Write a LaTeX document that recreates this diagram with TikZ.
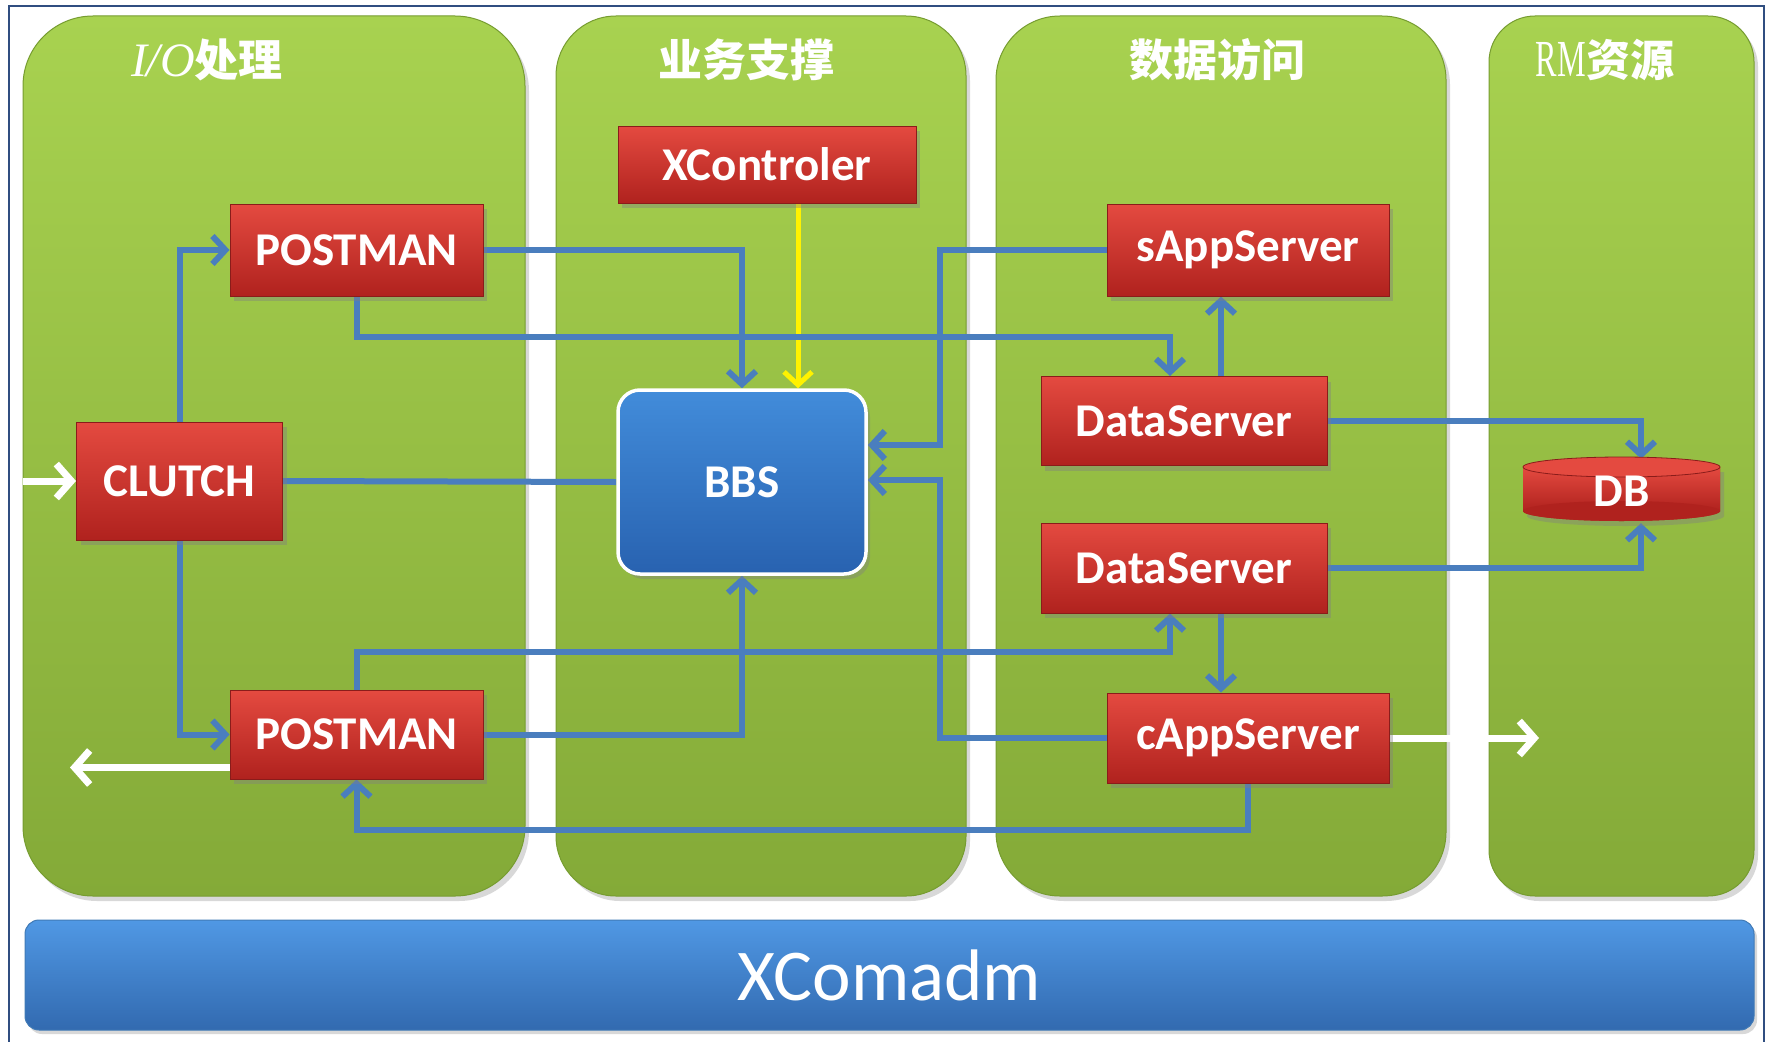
\documentclass[tikz,border=0pt]{standalone}
\usepackage{fontspec}
\usepackage{graphicx}
\setmainfont{Carlito}
\newfontfamily\cjk{Noto Sans CJK SC}
\newfontfamily\serifl{Liberation Serif}
\usetikzlibrary{arrows.meta,shadows}
\pgfdeclarelayer{cols}
\pgfdeclarelayer{wires}
\pgfsetlayers{cols,wires,main}
\definecolor{colTop}{RGB}{168,210,80}
\definecolor{colBot}{RGB}{132,170,56}
\definecolor{colEdge}{RGB}{118,156,48}
\definecolor{redTop}{RGB}{228,74,64}
\definecolor{redBot}{RGB}{176,34,30}
\definecolor{redEdge}{RGB}{138,28,26}
\definecolor{bbsTop}{RGB}{66,140,218}
\definecolor{bbsBot}{RGB}{40,98,176}
\definecolor{barTop}{RGB}{80,152,228}
\definecolor{barBot}{RGB}{50,106,176}
\definecolor{wireC}{RGB}{74,126,190}
\definecolor{frameC}{RGB}{48,78,128}
\tikzset{
  colbox/.style={draw=colEdge, line width=1pt, top color=colTop, bottom color=colBot,
    drop shadow={shadow xshift=4pt, shadow yshift=-5pt, opacity=0.3}},
  redbox/.style={rectangle, draw=redEdge, line width=1pt, top color=redTop, bottom color=redBot,
    text=white, font=\fontsize{47}{56}\selectfont\bfseries, inner sep=0pt,
    drop shadow={shadow xshift=4pt, shadow yshift=-5pt, opacity=0.4}},
  bbsbox/.style={rectangle, rounded corners=22pt, draw=white, line width=3.5pt,
    top color=bbsTop, bottom color=bbsBot, text=white,
    font=\fontsize{47}{56}\selectfont\bfseries, inner sep=0pt,
    drop shadow={shadow xshift=4pt, shadow yshift=-5pt, opacity=0.4}},
  barbox/.style={rectangle, rounded corners=14pt, draw=barTop!80!black, line width=1pt,
    top color=barTop, bottom color=barBot, text=white,
    font=\fontsize{73}{80}\selectfont, inner sep=0pt,
    drop shadow={shadow xshift=3pt, shadow yshift=-4pt, opacity=0.3}},
  titletext/.style={text=white, font=\fontsize{44}{50}\selectfont, inner sep=0pt},
  wire/.style={draw=wireC, line width=6pt},
  wirearr/.style={wire, -{Straight Barb[length=13pt,width=28pt]}},
  yelarr/.style={draw=yellow, line width=5pt, -{Straight Barb[length=13pt,width=28pt]}},
  whitearr/.style={draw=white, line width=7pt, -{Straight Barb[length=15pt,width=34pt]}},
}
\begin{document}
\begin{tikzpicture}[x=1pt,y=-1pt]
\useasboundingbox (0,0) rectangle (1771,1041);

\begin{pgfonlayer}{cols}
\fill[white] (0,0) rectangle (1771,1041);
\draw[frameC, line width=2.5pt] (9,1045) -- (9,6) -- (1764,6) -- (1764,1045);
\path[colbox, rounded corners=70pt] (23,16) rectangle (525,896);
\path[colbox, rounded corners=60pt] (556,16) rectangle (966,896);
\path[colbox, rounded corners=64pt] (996,16) rectangle (1446,896);
\path[colbox, rounded corners=46pt] (1489,16) rectangle (1754,896);
\end{pgfonlayer}

% titles
\node[titletext] (t1) at (207,60) {{\serifl\itshape\fontsize{48}{54}\selectfont I/O}{\cjk\bfseries 处理}};
\node[titletext] (t2) at (746,60) {\cjk\bfseries 业务支撑};
\node[titletext] (t3) at (1217,60) {\cjk\bfseries 数据访问};
\node[titletext] (t4) at (1605,60) {{\serifl\scalebox{0.62}[1]{\fontsize{52}{56}\selectfont RM}}{\cjk\bfseries 资源}};

% boxes
\node[redbox, minimum width=298pt, minimum height=77pt] (XC) at (767,164.5) {XControler};
\node[redbox, minimum width=253pt, minimum height=92pt] (P1) at (356.5,250) {POSTMAN};
\node[redbox, minimum width=206pt, minimum height=118pt] (CL) at (179.5,481) {CLUTCH};
\node[redbox, minimum width=253pt, minimum height=89pt] (P2) at (356.5,734.5) {POSTMAN};
\node[redbox, minimum width=282pt, minimum height=92pt] (SA) at (1248,250) {sAppServer};
\node[redbox, minimum width=286pt, minimum height=89pt] (D1) at (1184,421) {DataServer};
\node[redbox, minimum width=286pt, minimum height=90pt] (D2) at (1184,568) {DataServer};
\node[redbox, minimum width=282pt, minimum height=90pt] (CA) at (1248,738) {cAppServer};
\node[bbsbox, minimum width=248pt, minimum height=184pt] (BBS) at (742,482) {BBS};

% DB cylinder
\path[fill=redBot, drop shadow={shadow xshift=4pt, shadow yshift=-5pt, opacity=0.4}]
  (1523,467) rectangle (1720,511) (1621.5,511) ellipse [x radius=98.5pt, y radius=10pt];
\fill[top color=redTop, bottom color=redBot] (1523,467) rectangle (1720,511);
\fill[redBot] (1621.5,511) ellipse [x radius=98.5pt, y radius=10pt];
\fill[redTop] (1621.5,467) ellipse [x radius=98.5pt, y radius=10pt];
\draw[redEdge, line width=0.8pt] (1621.5,467) ellipse [x radius=98.5pt, y radius=10pt];
\node[text=white, font=\fontsize{47}{56}\selectfont\bfseries, minimum width=197pt, minimum height=64pt, inner sep=0pt] (DB) at (1621.5,491) {DB};

% bottom bar
\node[barbox, minimum width=1729pt, minimum height=110pt] (XCA) at (889.5,975) {XComadm};

\begin{pgfonlayer}{wires}
\draw[wirearr] (CL.north) |- (P1.west);
\draw[wirearr] (CL.south) |- (P2.west);
\draw[wirearr] (P1.east) -| (BBS.north);
\coordinate (yc) at ([xshift=31pt]XC.south);
\draw[yelarr] (yc) -- (yc |- BBS.north);
\coordinate (h1) at (0,337);
\coordinate (d1in) at ([xshift=-14pt]D1.north);
\draw[wirearr] (P1.south) -- (P1.south |- h1) -| (d1in);
\coordinate (v1) at (940,0);
\coordinate (bbsA) at ([yshift=37pt]BBS.east);
\draw[wirearr] (SA.west) -- (SA.west -| v1) -- (v1 |- bbsA) -- (bbsA);
\coordinate (v2) at (1221,0);
\draw[wirearr] (D1.north -| v2) -- (SA.south -| v2);
\coordinate (v3) at (1641,0);
\draw[wirearr] (D1.east) -| (v3 |- DB.north);
\draw[wire] (CL.east) -- (BBS.west);
\draw[wirearr] (D2.east) -| (v3 |- DB.south);
\draw[wirearr] (D2.south -| v2) -- (CA.north -| v2);
\coordinate (bbsB) at ([yshift=2pt]BBS.east);
\draw[wirearr] (CA.west) -- (CA.west -| v1) -- (v1 |- bbsB) -- (bbsB);
\coordinate (h2) at (0,652);
\coordinate (d2in) at ([xshift=-14pt]D2.south);
\draw[wirearr] (P2.north) -- (P2.north |- h2) -| (d2in);
\draw[wirearr] (P2.east) -| (BBS.south);
\coordinate (h3) at (0,830);
\draw[wirearr] (CA.south) -- (CA.south |- h3) -| (P2.south);
\coordinate (inL) at (23,0);
\draw[whitearr] (inL |- CL.west) -- (CL.west);
\coordinate (p2o) at ([yshift=-33pt]P2.west);
\coordinate (outL) at (70,0);
\draw[whitearr] (p2o) -- (outL |- p2o);
\coordinate (outR) at (1539,0);
\draw[whitearr] (CA.east) -- (outR |- CA.east);
\end{pgfonlayer}
\end{tikzpicture}
\end{document}
